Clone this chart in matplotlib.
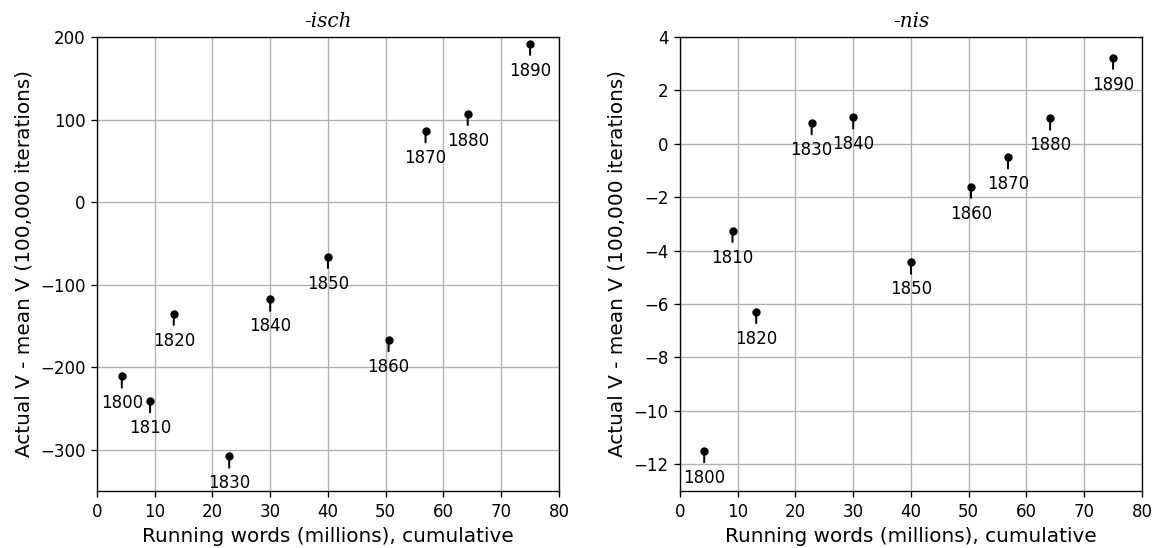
import matplotlib
matplotlib.use("Agg")
import matplotlib.pyplot as plt

decades = [1800, 1810, 1820, 1830, 1840, 1850, 1860, 1870, 1880, 1890]
words_isch = [4.3, 9.2, 13.3, 22.9, 30.0, 40.0, 50.5, 56.9, 64.2, 75.0]
diff_isch = [-211, -241, -135, -308, -118, -66, -167, 86, 107, 192]
words_nis = [4.2, 9.1, 13.2, 22.8, 30.0, 40.0, 50.4, 56.8, 64.1, 75.0]
diff_nis = [-11.5, -3.25, -6.29, 0.78, 1.0, -4.44, -1.6, -0.5, 0.95, 3.23]

plt.rcParams['font.family'] = ['DejaVu Sans']

DPI = 120
fig = plt.figure(figsize=(1157 / DPI, 548 / DPI), dpi=DPI)
ax1 = fig.add_axes([0.0838, 0.104, 0.3993, 0.8285])
ax2 = fig.add_axes([0.5877, 0.104, 0.3993, 0.8285])

panels = [
    (ax1, words_isch, diff_isch, '-isch', (-350, 200), [-300, -200, -100, 0, 100, 200]),
    (ax2, words_nis, diff_nis, '-nis', (-13, 4), [-12, -10, -8, -6, -4, -2, 0, 2, 4]),
]

for ax, xs, ys, title, ylim, yticks in panels:
    ax.set_axisbelow(True)
    ax.grid(True, color='#b0b0b0', linewidth=0.8)
    ax.plot(xs, ys, 'o', color='black', markersize=4, zorder=3)
    for x, y, d in zip(xs, ys, decades):
        ax.annotate(str(d), xy=(x, y), xytext=(0, -16.2), textcoords='offset points',
                    ha='center', va='center', fontsize=10,
                    arrowprops=dict(arrowstyle='-', color='black', lw=1.2,
                                    shrinkA=2, shrinkB=0))
    ax.set_xlim(0, 80)
    ax.set_ylim(*ylim)
    ax.set_xticks(range(0, 81, 10))
    ax.set_yticks(yticks)
    ax.tick_params(labelsize=10)
    ax.set_xlabel('Running words (millions), cumulative', fontsize=12)
    ax.set_ylabel('Actual V - mean V (100,000 iterations)', fontsize=12)
    ax.set_title(title, fontsize=12, family='DejaVu Serif', style='italic')

fig.savefig('out.png', dpi=DPI)
